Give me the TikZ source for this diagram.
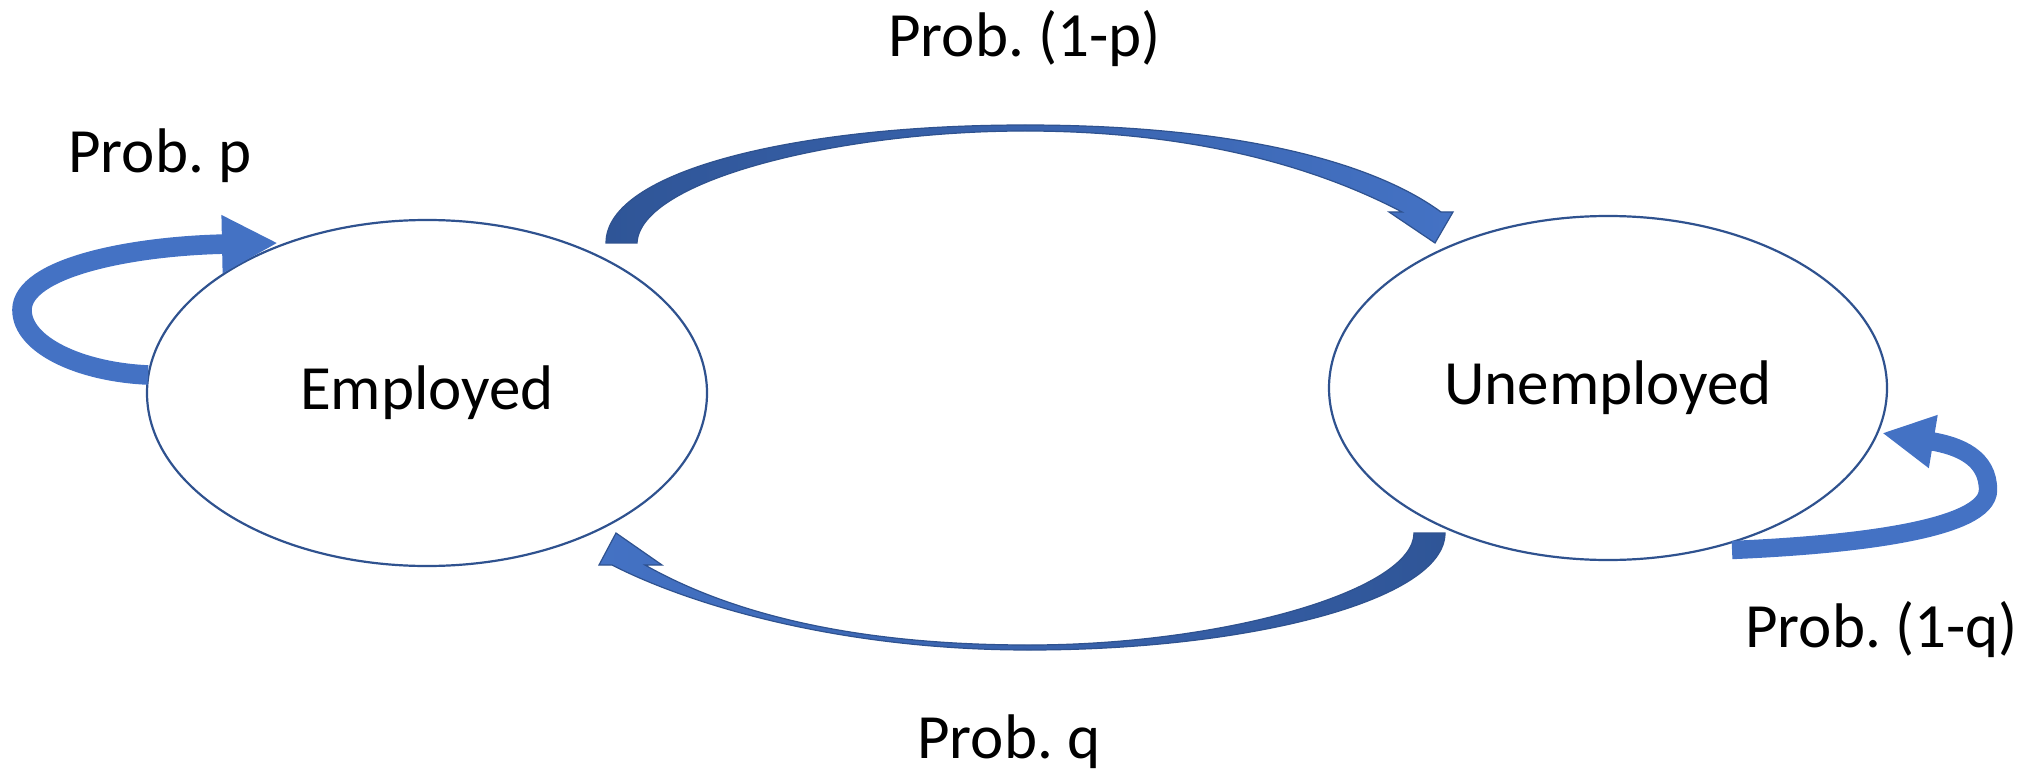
\documentclass[tikz,border=0pt]{standalone}
\usepackage{fontspec}
\setmainfont{Carlito}
\usetikzlibrary{shapes.geometric,arrows.meta}
\definecolor{loopblue}{HTML}{4472C4}
\definecolor{arcdark}{HTML}{2F5597}
\definecolor{arclight}{HTML}{4472C4}
\definecolor{edgeblue}{HTML}{2F528F}
\begin{document}
\frenchspacing
\begin{tikzpicture}[x=0.5pt,y=-0.5pt,
  state/.style={ellipse,draw=edgeblue,line width=1.1pt,inner sep=0pt,fill=white,
    font=\fontsize{31.5}{38}\selectfont},
  lbl/.style={anchor=base west,inner sep=0pt,font=\fontsize{31.5}{38}\selectfont},
  loopleft/.style={draw=loopblue,line width=9.8pt,-{Triangle[length=28pt,width=27pt]}},
  loopright/.style={draw=loopblue,line width=9.2pt,-{Triangle[length=26pt,width=25pt]}},
  bigarrow/.style={draw=edgeblue,line width=0.6pt}]
\useasboundingbox (0,0) rectangle (2028,775);

% states
\node[state,minimum width=280pt,minimum height=173pt] (emp) at (427,393) {Employed};
\node[state,minimum width=279pt,minimum height=172pt] (unemp) at (1608,388) {Unemployed};

% labels
\node[lbl] (lblp)  at (68,173)   {Prob. p};
\node[lbl] (lbl1p) at (888,57)   {Prob. (1-p)};
\node[lbl] (lbl1q) at (1745,647) {Prob. (1-q)};
\node[lbl] (lblq)  at (917,758)  {Prob. q};

% anchor points for connectors
\coordinate (lpA) at (148,375);
\coordinate (lpB) at (278,243);
\coordinate (rpA) at (1732,550);
\coordinate (rpB) at (1882,433);

% self loops
\draw[loopleft] (lpA) .. controls (80,372) and (22,345) .. (22,310)
  .. controls (22,268) and (130,246) .. (lpB);
\draw[loopright] (rpA) .. controls (1850,545) and (1988,530) .. (1988,490)
  .. controls (1988,458) and (1960,446) .. (rpB);

% top curved arrow: Employed -> Unemployed
\coordinate (taO0) at (606,243);
\coordinate (taTip) at (1435,243);
\coordinate (taI0) at (637,243);
\shadedraw[bigarrow,left color=arcdark,right color=arclight]
  (taO0) .. controls (606,170) and (800,125) .. (1025,125)
  .. controls (1230,125) and (1370,160) .. (1441,212)
  -- (1453,212) -- (taTip) -- (1389,212) -- (1402,212)
  .. controls (1322,170) and (1200,131) .. (1025,131)
  .. controls (840,131) and (640,180) .. (taI0) -- cycle;

% bottom curved arrow: Unemployed -> Employed
\coordinate (baO0) at (1445,533);
\coordinate (baTip) at (616,533);
\coordinate (baI0) at (1414,533);
\shadedraw[bigarrow,left color=arclight,right color=arcdark]
  (baO0) .. controls (1445,600) and (1250,650) .. (1029,650)
  .. controls (840,650) and (690,605) .. (612,565)
  -- (599,565) -- (baTip) -- (662,565) -- (645,565)
  .. controls (728,612) and (850,645) .. (1029,645)
  .. controls (1225,645) and (1414,590) .. (baI0) -- cycle;
\end{tikzpicture}
\end{document}
